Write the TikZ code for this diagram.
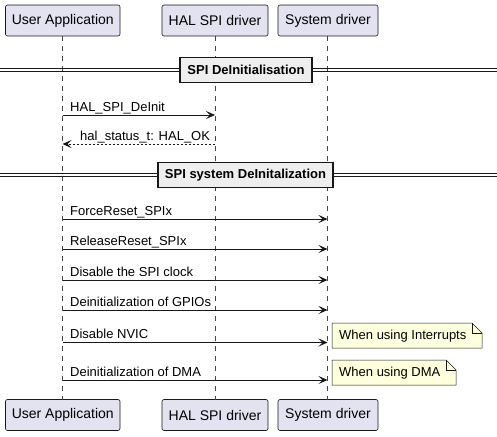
\documentclass[tikz,border=0pt]{standalone}
\usepackage{fontspec}
\setmainfont{Liberation Sans}
\usetikzlibrary{arrows.meta}
\definecolor{partfill}{HTML}{E2E2F0}
\definecolor{edge}{HTML}{181818}
\definecolor{notefill}{HTML}{FEFFDD}
\definecolor{divfill}{HTML}{EEEEEE}
\tikzset{
  participant/.style={draw=edge, fill=partfill, line width=0.6pt, rounded corners=2pt,
    minimum height=31pt, inner sep=0pt, font=\fontsize{14}{16}\selectfont},
  lifeline/.style={draw=edge!80, line width=0.5pt, dash pattern=on 5pt off 5pt},
  msg/.style={draw=edge, line width=0.8pt, -{Stealth[length=9pt,width=8pt,inset=4pt]}},
  ret/.style={msg, dash pattern=on 2pt off 2pt},
  msglabel/.style={font=\fontsize{13}{15}\selectfont, anchor=base west, inner sep=0pt},
  divbox/.style={draw=edge, fill=divfill, line width=1.6pt, inner sep=0pt,
    minimum height=25pt, font=\bfseries\fontsize{13}{15}\selectfont},
  divline/.style={draw=edge, line width=1pt},
  notebox/.style={font=\fontsize{13}{15}\selectfont, anchor=west, inner sep=0pt}
}
\begin{document}
\begin{tikzpicture}[x=1pt,y=-1pt]
\useasboundingbox (0,0) rectangle (497,436);
% participants top
\node[participant, minimum width=114.5pt] (uaT) at (62.75,20.5) {User Application};
\node[participant, minimum width=106pt] (halT) at (215,20.5) {HAL SPI driver};
\node[participant, minimum width=100pt] (sysT) at (328,20.5) {System driver};
% participants bottom
\node[participant, minimum width=114.5pt] (uaB) at (62.75,415) {User Application};
\node[participant, minimum width=106pt] (halB) at (215,415) {HAL SPI driver};
\node[participant, minimum width=100pt] (sysB) at (328,415) {System driver};
% lifelines
\draw[lifeline] (62.5,36) -- (62.5,399.5);
\draw[lifeline] (215,36) -- (215,399.5);
\draw[lifeline] (327.5,36) -- (327.5,399.5);
% divider 1
\draw[divline] (0,68.5) -- (497,68.5);
\draw[divline] (0,71.5) -- (497,71.5);
\node[divbox, minimum width=132pt] (div1) at (246,70) {SPI DeInitialisation};
% messages
\coordinate (ua1) at (62.5,115); \coordinate (hal1) at (215,115);
\draw[msg] (ua1) -- (hal1);
\node[msglabel] (m1) at (70,111) {HAL\_SPI\_DeInit};
\coordinate (ua2) at (62.5,144); \coordinate (hal2) at (215,144);
\draw[ret] (hal2) -- (ua2);
\node[msglabel] (m2) at (80,140) {hal\_status\_t: HAL\_OK};
% divider 2
\draw[divline] (0,173.5) -- (497,173.5);
\draw[divline] (0,176.5) -- (497,176.5);
\node[divbox, minimum width=175pt] (div2) at (245.5,175) {SPI system DeInitalization};
% system messages
\coordinate (ua3) at (62.5,219); \coordinate (sys3) at (327.5,219);
\draw[msg] (ua3) -- (sys3);
\node[msglabel] (m3) at (70,215) {ForceReset\_SPIx};
\coordinate (ua4) at (62.5,249); \coordinate (sys4) at (327.5,249);
\draw[msg] (ua4) -- (sys4);
\node[msglabel] (m4) at (70,245) {ReleaseReset\_SPIx};
\coordinate (ua5) at (62.5,280); \coordinate (sys5) at (327.5,280);
\draw[msg] (ua5) -- (sys5);
\node[msglabel] (m5) at (70,276) {Disable the SPI clock};
\coordinate (ua6) at (62.5,310); \coordinate (sys6) at (327.5,310);
\draw[msg] (ua6) -- (sys6);
\node[msglabel] (m6) at (70,306) {Deinitialization of GPIOs};
\coordinate (ua7) at (62.5,342.5); \coordinate (sys7) at (327.5,342.5);
\draw[msg] (ua7) -- (sys7);
\node[msglabel] (m7) at (70,338.5) {Disable NVIC};
\coordinate (ua8) at (62.5,380); \coordinate (sys8) at (327.5,380);
\draw[msg] (ua8) -- (sys8);
\node[msglabel] (m8) at (70,376) {Deinitialization of DMA};
% notes
\draw[draw=edge, fill=notefill, line width=0.5pt]
  (332,323) -- (472,323) -- (482,333) -- (482,348) -- (332,348) -- cycle;
\draw[draw=edge, line width=0.5pt] (472,323) -- (472,333) -- (482,333);
\node[notebox] (n1) at (339,336) {When using Interrupts};
\draw[draw=edge, fill=notefill, line width=0.5pt]
  (332,360) -- (446,360) -- (456,370) -- (456,385) -- (332,385) -- cycle;
\draw[draw=edge, line width=0.5pt] (446,360) -- (446,370) -- (456,370);
\node[notebox] (n2) at (339,373) {When using DMA};
\end{tikzpicture}
\end{document}
